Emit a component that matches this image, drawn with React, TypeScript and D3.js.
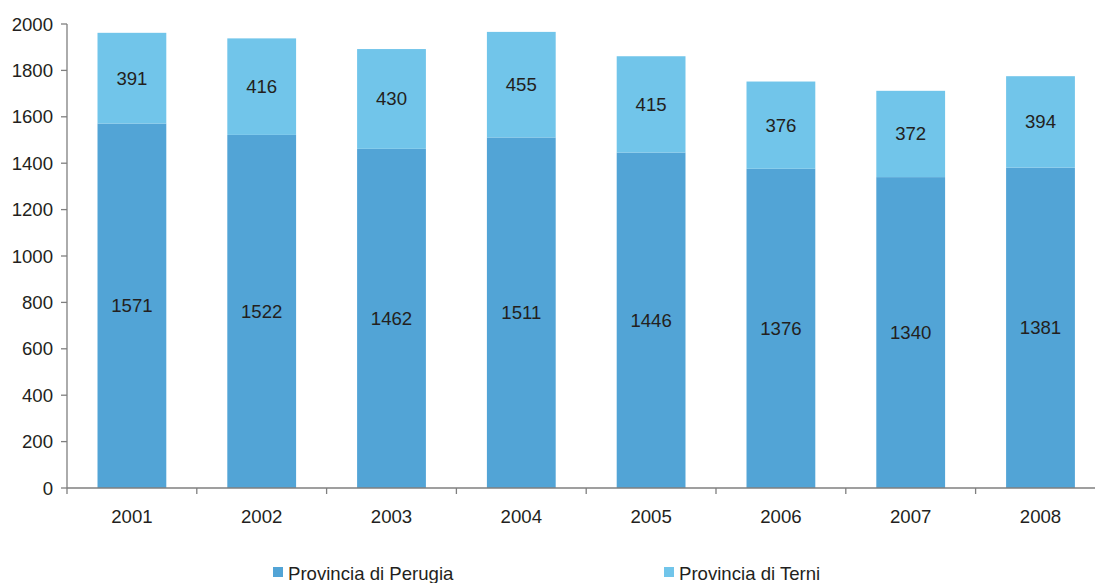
import React from "react";
import * as d3 from "d3";

const years = ["2001", "2002", "2003", "2004", "2005", "2006", "2007", "2008"];
const perugia = [1571, 1522, 1462, 1511, 1446, 1376, 1340, 1381];
const terni = [391, 416, 430, 455, 415, 376, 372, 394];
const yTicks = [0, 200, 400, 600, 800, 1000, 1200, 1400, 1600, 1800, 2000];
const seriesNames = ["Provincia di Perugia", "Provincia di Terni"];
const colors = ["#52A4D6", "#71C5EA"];

export default function App() {
  const W = 1095, H = 583;
  const x0 = 67, y0 = 488, yTop = 24;
  const step = 129.8;
  const fs = 18.6;
  const x = d3.scaleBand<string>().domain(years).range([x0, x0 + step * years.length]).paddingInner(0.47).paddingOuter(0.235);
  const y = d3.scaleLinear().domain([0, 2000]).range([y0, yTop]);
  const font = "Liberation Sans, Arial, sans-serif";
  const txt = "#231F20";
  const axisCol = "#7f7f7f";
  const bw = x.bandwidth();
  return (
    <svg width={W} height={H} style={{ position: "absolute", left: 0, top: 0, background: "#fff" }} fontFamily={font}>
      {years.map((yr, i) => {
        const xb = x(yr)!;
        const p = perugia[i], t = terni[i];
        return (
          <g key={yr}>
            <rect x={xb} y={y(p)} width={bw} height={y(0) - y(p)} fill={colors[0]} />
            <rect x={xb} y={y(p + t)} width={bw} height={y(p) - y(p + t)} fill={colors[1]} />
            <text x={xb + bw / 2} y={(y(0) + y(p)) / 2} textAnchor="middle" dominantBaseline="central" fontSize={fs} fill={txt}>{p}</text>
            <text x={xb + bw / 2} y={(y(p) + y(p + t)) / 2} textAnchor="middle" dominantBaseline="central" fontSize={fs} fill={txt}>{t}</text>
            <text x={xb + bw / 2} y={516} textAnchor="middle" dominantBaseline="central" fontSize={fs} fill={txt}>{yr}</text>
          </g>
        );
      })}
      <line x1={x0} y1={y(2000)} x2={x0} y2={y0 + 6} stroke={axisCol} strokeWidth={1.3} />
      {yTicks.map((v) => (
        <g key={v}>
          <line x1={x0 - 6} x2={x0} y1={y(v)} y2={y(v)} stroke={axisCol} strokeWidth={1.3} />
          <text x={53} y={y(v)} textAnchor="end" dominantBaseline="central" fontSize={fs} fill={txt}>{v}</text>
        </g>
      ))}
      <line x1={x0} y1={y0} x2={W} y2={y0} stroke={axisCol} strokeWidth={1.3} />
      {years.map((yr, i) => {
        const bx = x0 + step * (i + 1);
        return <line key={"t" + yr} x1={bx} x2={bx} y1={y0} y2={y0 + 6} stroke={axisCol} strokeWidth={1.3} />;
      })}
      {seriesNames.map((s, i) => {
        const lx = i === 0 ? 273 : 664;
        return (
          <g key={s}>
            <rect x={lx} y={567} width={10} height={10} fill={colors[i]} />
            <text x={lx + 15} y={573} dominantBaseline="central" fontSize={fs} fill={txt}>{s}</text>
          </g>
        );
      })}
    </svg>
  );
}
